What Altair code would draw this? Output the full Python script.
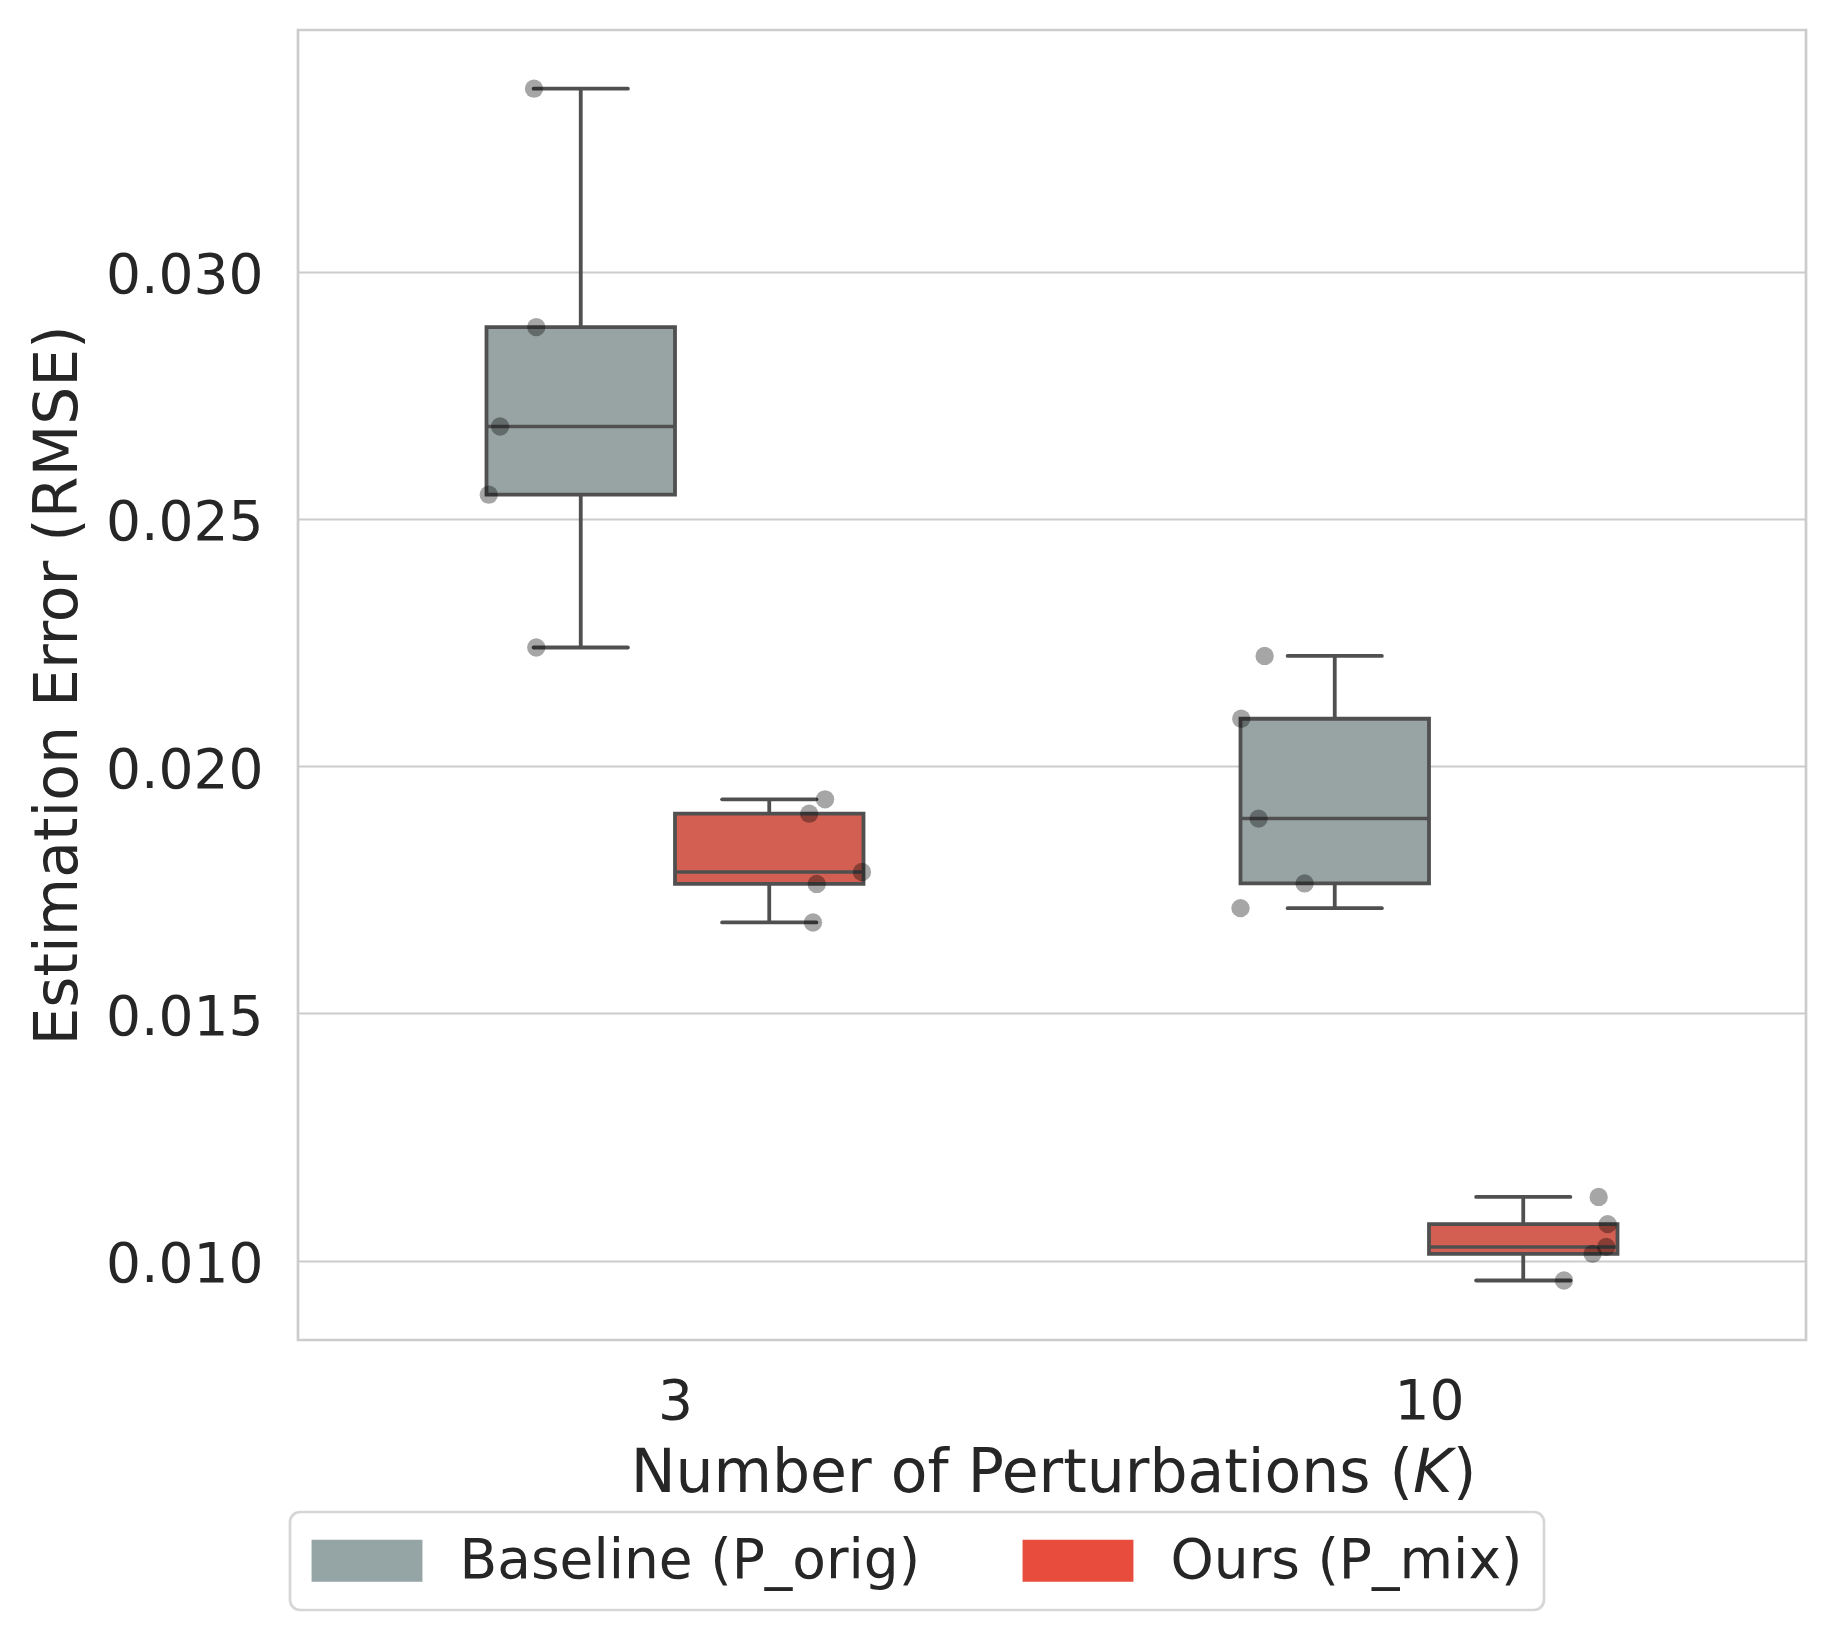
import altair as alt
import pandas as pd

# ---------------- data ----------------
K_VALUES = ["3", "10"]
METHODS = ["Baseline (P_orig)", "Ours (P_mix)"]
LEGEND_COLORS = ["#95a5a6", "#e74c3c"]
BOX_COLORS = ["#98a3a4", "#d25f52"]

baseline_k3 = [0.03370, 0.02888, 0.02687, 0.02549, 0.02240]
baseline_k10 = [0.02223, 0.02096, 0.01894, 0.01763, 0.01713]
ours_k3 = [0.01933, 0.01904, 0.01786, 0.01762, 0.01684]
ours_k10 = [0.01129, 0.01074, 0.01028, 0.01014, 0.00960]

# horizontal jitter of each strip point (fraction of a category band)
jitter_baseline_k3 = [0.013, 0.016, -0.032, -0.047, 0.016]
jitter_baseline_k10 = [-0.018, -0.049, -0.026, 0.035, -0.050]
jitter_ours_k3 = [-0.001, -0.022, 0.048, -0.012, -0.017]
jitter_ours_k10 = [0.025, 0.037, 0.035, 0.017, -0.021]

Y_TICKS = [0.010, 0.015, 0.020, 0.025, 0.030]

series = {
    ("3", METHODS[0]): (baseline_k3, jitter_baseline_k3),
    ("3", METHODS[1]): (ours_k3, jitter_ours_k3),
    ("10", METHODS[0]): (baseline_k10, jitter_baseline_k10),
    ("10", METHODS[1]): (ours_k10, jitter_ours_k10),
}

rows = []
for k_idx, k in enumerate(K_VALUES):
    for m_idx, m in enumerate(METHODS):
        vals, jit = series[(k, m)]
        for v, j in zip(vals, jit):
            rows.append({"K": k, "kidx": k_idx, "method": m, "midx": m_idx,
                         "rmse": v, "jitter": j})
df = pd.DataFrame(rows)

# ---------------- styling ----------------
LINE = "#505050"
TEXT = "#262626"
GRID = "#cccccc"
FONT = "DejaVu Sans"

x_scale = alt.Scale(domain=[0, len(K_VALUES)], nice=False, zero=False)
y_scale = alt.Scale(domain=[0.008397, 0.034887], nice=False, zero=False)

label_expr = "[" + ",".join("'%s'" % k for k in K_VALUES) + "][floor(datum.value)]"
x_axis = alt.Axis(values=[i + 0.5 for i in range(len(K_VALUES))], labelExpr=label_expr,
                  title=None, grid=False, ticks=False, domain=False, labelFlush=False,
                  labelAngle=0, labelPadding=35, labelFontSize=55)
y_axis = alt.Axis(values=Y_TICKS, format=".3f", title="Estimation Error (RMSE)",
                  titleFontSize=60, titlePadding=16, labelFontSize=55, labelPadding=35,
                  labelOffset=4, ticks=False, domain=False, grid=True,
                  gridColor=GRID, gridWidth=2.2)


def X(field):
    return alt.X(field, type="quantitative", scale=x_scale, axis=x_axis)


def Y(field):
    return alt.Y(field, type="quantitative", scale=y_scale, axis=y_axis)


stats = alt.Chart(df).transform_aggregate(
    q1="q1(rmse)", q3="q3(rmse)", med="median(rmse)", lo="min(rmse)", hi="max(rmse)",
    groupby=["K", "kidx", "method", "midx"],
).transform_calculate(
    center="datum.kidx + 0.5 + (datum.midx - 0.5) * 0.25",
    left="datum.center - 0.125",
    right="datum.center + 0.125",
    capl="datum.center - 0.0625",
    capr="datum.center + 0.0625",
)

LW = 3.8

whisker = stats.mark_rule(color=LINE, strokeWidth=LW).encode(
    x=X("center"), y=Y("lo"), y2="hi:Q")

box = stats.mark_bar(stroke=LINE, strokeWidth=LW).encode(
    x=X("left"), x2="right:Q", y=Y("q1"), y2="q3:Q",
    fill=alt.Fill("midx:N", scale=alt.Scale(domain=list(range(len(METHODS))), range=BOX_COLORS),
                  legend=None))

median = stats.mark_rule(color=LINE, strokeWidth=3.5).encode(
    x=X("left"), x2="right:Q", y=Y("med"))

cap_lo = stats.mark_rule(color=LINE, strokeWidth=LW, strokeCap="round").encode(
    x=X("capl"), x2="capr:Q", y=Y("lo"))
cap_hi = stats.mark_rule(color=LINE, strokeWidth=LW, strokeCap="round").encode(
    x=X("capl"), x2="capr:Q", y=Y("hi"))

legend_path = "M-2.64,-1H2.64V1H-2.64Z"
legend_layer = stats.mark_square(opacity=0, filled=True).encode(
    x=X("center"), y=Y("med"),
    color=alt.Color("method:N", scale=alt.Scale(domain=METHODS, range=LEGEND_COLORS),
                    legend=alt.Legend(title=None, orient="none", legendX=-8, legendY=1482,
                                      direction="horizontal", columns=2,
                                      symbolType=legend_path, symbolSize=1764,
                                      symbolOffset=28.5, symbolStrokeWidth=0,
                                      symbolOpacity=1, labelOffset=65, labelLimit=0,
                                      columnPadding=101, labelFontSize=55,
                                      labelFont=FONT, labelColor=TEXT)))

points = alt.Chart(df).transform_calculate(
    px="datum.kidx + 0.5 + (datum.midx - 0.5) * 0.4 + datum.jitter"
).mark_circle(color="black", opacity=0.35, size=336).encode(
    x=X("px"), y=Y("rmse"))


def title_part(text, x, align, style="normal"):
    return alt.Chart(alt.Data(values=[{}])).mark_text(
        text=text, font=FONT, fontSize=60, fontStyle=style, align=align,
        baseline="alphabetic", color=TEXT,
    ).encode(x=alt.value(x), y=alt.value(1462))


x_title = [
    title_part("Number of Perturbations (", 1115, "right"),
    title_part("K", 1115, "left", "italic"),
    title_part(")", 1155, "left"),
]

chart = alt.layer(
    whisker, box, median, cap_lo, cap_hi, legend_layer, points, *x_title
).properties(
    width=1508, height=1310,
    autosize=alt.AutoSizeParams(type="none"),
    padding={"left": 290, "top": 22, "right": 20, "bottom": 292},
).configure_view(
    stroke=GRID, strokeWidth=2.7
).configure_axis(
    labelFont=FONT, titleFont=FONT, labelColor=TEXT, titleColor=TEXT,
    titleFontWeight="normal", tickSize=0
).configure_legend(
    padding=21, strokeColor="#d6d6d6", strokeWidth=2.7, cornerRadius=10,
    fillColor="white"
)

chart.save("out.html", embed_options={"renderer": "svg", "actions": False})
